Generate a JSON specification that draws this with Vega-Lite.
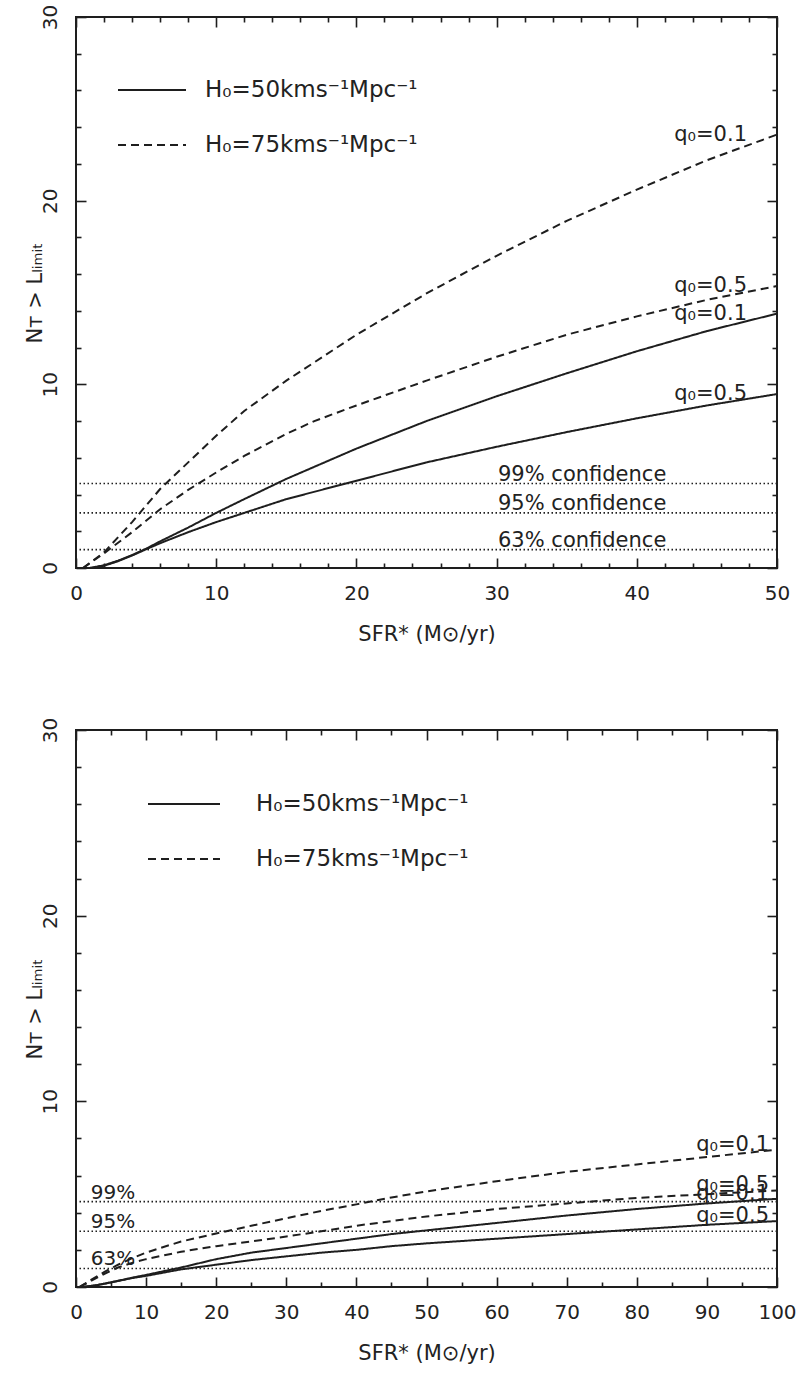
{
  "$schema": "https://vega.github.io/schema/vega-lite/v6.json",
  "background": "white",
  "padding": {"left": 22, "top": 3, "right": 8, "bottom": 4},
  "config": {
    "font": "DejaVu Sans",
    "view": {"stroke": "#1e1e1e", "strokeWidth": 2},
    "axis": {
      "domain": false, "grid": false,
      "labelFont": "DejaVu Sans", "labelFontSize": 20, "labelColor": "#222",
      "labelOverlap": false, "labelFlush": false, "labelBound": false,
      "tickColor": "#1e1e1e", "tickWidth": 1.6,
      "titleFont": "DejaVu Sans", "titleFontSize": 21, "titleFontWeight": "normal", "titleColor": "#222"
    },
    "line": {"color": "#1e1e1e", "strokeWidth": 2},
    "text": {"font": "DejaVu Sans", "color": "#222"}
  },
  "datasets": {
    "levels": [
      {"p": "99%", "n": 4.6},
      {"p": "95%", "n": 3.0},
      {"p": "63%", "n": 1.0}
    ],
    "sfr50": [
      {"h": 75, "q": 0.1, "x": 0.5, "y": 0}, {"h": 75, "q": 0.1, "x": 2, "y": 0.85}, {"h": 75, "q": 0.1, "x": 4, "y": 2.5},
      {"h": 75, "q": 0.1, "x": 6, "y": 4.3}, {"h": 75, "q": 0.1, "x": 8, "y": 5.75}, {"h": 75, "q": 0.1, "x": 10, "y": 7.2},
      {"h": 75, "q": 0.1, "x": 12, "y": 8.55}, {"h": 75, "q": 0.1, "x": 15, "y": 10.2}, {"h": 75, "q": 0.1, "x": 20, "y": 12.7},
      {"h": 75, "q": 0.1, "x": 25, "y": 14.95}, {"h": 75, "q": 0.1, "x": 30, "y": 17.0}, {"h": 75, "q": 0.1, "x": 35, "y": 18.9},
      {"h": 75, "q": 0.1, "x": 40, "y": 20.6}, {"h": 75, "q": 0.1, "x": 45, "y": 22.2}, {"h": 75, "q": 0.1, "x": 50, "y": 23.6},

      {"h": 75, "q": 0.5, "x": 0.5, "y": 0}, {"h": 75, "q": 0.5, "x": 2, "y": 0.8}, {"h": 75, "q": 0.5, "x": 4, "y": 1.95},
      {"h": 75, "q": 0.5, "x": 6, "y": 3.2}, {"h": 75, "q": 0.5, "x": 8, "y": 4.25}, {"h": 75, "q": 0.5, "x": 10, "y": 5.2},
      {"h": 75, "q": 0.5, "x": 12, "y": 6.1}, {"h": 75, "q": 0.5, "x": 15, "y": 7.3}, {"h": 75, "q": 0.5, "x": 17, "y": 8.0},
      {"h": 75, "q": 0.5, "x": 20, "y": 8.85}, {"h": 75, "q": 0.5, "x": 25, "y": 10.2}, {"h": 75, "q": 0.5, "x": 30, "y": 11.5},
      {"h": 75, "q": 0.5, "x": 35, "y": 12.7}, {"h": 75, "q": 0.5, "x": 40, "y": 13.7}, {"h": 75, "q": 0.5, "x": 45, "y": 14.6},
      {"h": 75, "q": 0.5, "x": 50, "y": 15.35},

      {"h": 50, "q": 0.1, "x": 1, "y": 0}, {"h": 50, "q": 0.1, "x": 2, "y": 0.15}, {"h": 50, "q": 0.1, "x": 3, "y": 0.4},
      {"h": 50, "q": 0.1, "x": 4, "y": 0.7}, {"h": 50, "q": 0.1, "x": 5, "y": 1.05}, {"h": 50, "q": 0.1, "x": 6, "y": 1.45},
      {"h": 50, "q": 0.1, "x": 8, "y": 2.2}, {"h": 50, "q": 0.1, "x": 10, "y": 3.0}, {"h": 50, "q": 0.1, "x": 12, "y": 3.75},
      {"h": 50, "q": 0.1, "x": 15, "y": 4.85}, {"h": 50, "q": 0.1, "x": 20, "y": 6.5}, {"h": 50, "q": 0.1, "x": 25, "y": 8.0},
      {"h": 50, "q": 0.1, "x": 30, "y": 9.35}, {"h": 50, "q": 0.1, "x": 35, "y": 10.6}, {"h": 50, "q": 0.1, "x": 40, "y": 11.8},
      {"h": 50, "q": 0.1, "x": 45, "y": 12.9}, {"h": 50, "q": 0.1, "x": 50, "y": 13.85},

      {"h": 50, "q": 0.5, "x": 1, "y": 0}, {"h": 50, "q": 0.5, "x": 2, "y": 0.12}, {"h": 50, "q": 0.5, "x": 3, "y": 0.37},
      {"h": 50, "q": 0.5, "x": 4, "y": 0.68}, {"h": 50, "q": 0.5, "x": 5, "y": 1.02}, {"h": 50, "q": 0.5, "x": 6, "y": 1.35},
      {"h": 50, "q": 0.5, "x": 8, "y": 1.95}, {"h": 50, "q": 0.5, "x": 10, "y": 2.5}, {"h": 50, "q": 0.5, "x": 12, "y": 3.0},
      {"h": 50, "q": 0.5, "x": 15, "y": 3.75}, {"h": 50, "q": 0.5, "x": 20, "y": 4.75}, {"h": 50, "q": 0.5, "x": 25, "y": 5.75},
      {"h": 50, "q": 0.5, "x": 30, "y": 6.6}, {"h": 50, "q": 0.5, "x": 35, "y": 7.4}, {"h": 50, "q": 0.5, "x": 40, "y": 8.15},
      {"h": 50, "q": 0.5, "x": 45, "y": 8.85}, {"h": 50, "q": 0.5, "x": 50, "y": 9.47}
    ],
    "sfr100": [
      {"h": 75, "q": 0.1, "x": 0.5, "y": 0}, {"h": 75, "q": 0.1, "x": 2, "y": 0.35}, {"h": 75, "q": 0.1, "x": 4, "y": 0.8},
      {"h": 75, "q": 0.1, "x": 6, "y": 1.2}, {"h": 75, "q": 0.1, "x": 8, "y": 1.55}, {"h": 75, "q": 0.1, "x": 10, "y": 1.85},
      {"h": 75, "q": 0.1, "x": 12, "y": 2.1}, {"h": 75, "q": 0.1, "x": 15, "y": 2.45}, {"h": 75, "q": 0.1, "x": 20, "y": 2.88},
      {"h": 75, "q": 0.1, "x": 25, "y": 3.3}, {"h": 75, "q": 0.1, "x": 30, "y": 3.7}, {"h": 75, "q": 0.1, "x": 35, "y": 4.1},
      {"h": 75, "q": 0.1, "x": 40, "y": 4.45}, {"h": 75, "q": 0.1, "x": 45, "y": 4.82}, {"h": 75, "q": 0.1, "x": 50, "y": 5.15},
      {"h": 75, "q": 0.1, "x": 60, "y": 5.7}, {"h": 75, "q": 0.1, "x": 70, "y": 6.2}, {"h": 75, "q": 0.1, "x": 80, "y": 6.6},
      {"h": 75, "q": 0.1, "x": 90, "y": 7.0}, {"h": 75, "q": 0.1, "x": 100, "y": 7.4},

      {"h": 75, "q": 0.5, "x": 0.5, "y": 0}, {"h": 75, "q": 0.5, "x": 2, "y": 0.3}, {"h": 75, "q": 0.5, "x": 4, "y": 0.7},
      {"h": 75, "q": 0.5, "x": 6, "y": 1.05}, {"h": 75, "q": 0.5, "x": 8, "y": 1.3}, {"h": 75, "q": 0.5, "x": 10, "y": 1.5},
      {"h": 75, "q": 0.5, "x": 15, "y": 1.9}, {"h": 75, "q": 0.5, "x": 20, "y": 2.2}, {"h": 75, "q": 0.5, "x": 25, "y": 2.45},
      {"h": 75, "q": 0.5, "x": 30, "y": 2.72}, {"h": 75, "q": 0.5, "x": 35, "y": 3.0}, {"h": 75, "q": 0.5, "x": 40, "y": 3.3},
      {"h": 75, "q": 0.5, "x": 45, "y": 3.55}, {"h": 75, "q": 0.5, "x": 50, "y": 3.8}, {"h": 75, "q": 0.5, "x": 60, "y": 4.2},
      {"h": 75, "q": 0.5, "x": 70, "y": 4.5}, {"h": 75, "q": 0.5, "x": 80, "y": 4.8}, {"h": 75, "q": 0.5, "x": 90, "y": 5.0},
      {"h": 75, "q": 0.5, "x": 100, "y": 5.2},

      {"h": 50, "q": 0.1, "x": 1, "y": 0}, {"h": 50, "q": 0.1, "x": 3, "y": 0.1}, {"h": 50, "q": 0.1, "x": 5, "y": 0.25},
      {"h": 50, "q": 0.1, "x": 8, "y": 0.5}, {"h": 50, "q": 0.1, "x": 10, "y": 0.65}, {"h": 50, "q": 0.1, "x": 15, "y": 1.05},
      {"h": 50, "q": 0.1, "x": 20, "y": 1.5}, {"h": 50, "q": 0.1, "x": 25, "y": 1.85}, {"h": 50, "q": 0.1, "x": 30, "y": 2.1},
      {"h": 50, "q": 0.1, "x": 35, "y": 2.35}, {"h": 50, "q": 0.1, "x": 40, "y": 2.6}, {"h": 50, "q": 0.1, "x": 45, "y": 2.85},
      {"h": 50, "q": 0.1, "x": 50, "y": 3.05}, {"h": 50, "q": 0.1, "x": 60, "y": 3.45}, {"h": 50, "q": 0.1, "x": 70, "y": 3.85},
      {"h": 50, "q": 0.1, "x": 80, "y": 4.2}, {"h": 50, "q": 0.1, "x": 90, "y": 4.5}, {"h": 50, "q": 0.1, "x": 100, "y": 4.75},

      {"h": 50, "q": 0.5, "x": 1, "y": 0}, {"h": 50, "q": 0.5, "x": 3, "y": 0.1}, {"h": 50, "q": 0.5, "x": 5, "y": 0.25},
      {"h": 50, "q": 0.5, "x": 8, "y": 0.48}, {"h": 50, "q": 0.5, "x": 10, "y": 0.6}, {"h": 50, "q": 0.5, "x": 15, "y": 0.95},
      {"h": 50, "q": 0.5, "x": 20, "y": 1.2}, {"h": 50, "q": 0.5, "x": 25, "y": 1.45}, {"h": 50, "q": 0.5, "x": 30, "y": 1.65},
      {"h": 50, "q": 0.5, "x": 35, "y": 1.85}, {"h": 50, "q": 0.5, "x": 40, "y": 2.0}, {"h": 50, "q": 0.5, "x": 45, "y": 2.2},
      {"h": 50, "q": 0.5, "x": 50, "y": 2.35}, {"h": 50, "q": 0.5, "x": 60, "y": 2.6}, {"h": 50, "q": 0.5, "x": 70, "y": 2.85},
      {"h": 50, "q": 0.5, "x": 80, "y": 3.1}, {"h": 50, "q": 0.5, "x": 90, "y": 3.35}, {"h": 50, "q": 0.5, "x": 100, "y": 3.55}
    ]
  },
  "spacing": 71,
  "resolve": {"scale": {"strokeDash": "independent"}, "legend": {"strokeDash": "independent"}},
  "vconcat": [
    {
      "width": 701,
      "height": 551,
      "resolve": {"axis": {"x": "independent", "y": "independent"}},
      "layer": [
        {
          "data": {"name": "levels"},
          "mark": {"type": "rule", "strokeDash": [1.5, 2.5], "strokeWidth": 1.6, "color": "#1e1e1e"},
          "encoding": {
            "y": {
              "field": "n", "type": "quantitative", "scale": {"domain": [0, 30], "nice": false},
              "axis": {
                "orient": "right", "labels": false, "title": null,
                "values": [0, 2, 4, 6, 8, 10, 12, 14, 16, 18, 20, 22, 24, 26, 28, 30],
                "tickSize": {"condition": {"test": "datum.value % 10 === 0", "value": -10}, "value": -5}
              }
            }
          }
        },
        {
          "data": {"name": "levels"},
          "transform": [{"calculate": "datum.p + ' confidence'", "as": "t"}],
          "mark": {"type": "text", "align": "left", "baseline": "alphabetic", "dy": -3, "fontSize": 21},
          "encoding": {
            "x": {
              "datum": 30.1, "type": "quantitative",
              "axis": {
                "orient": "top", "labels": false, "title": null,
                "values": [0, 2, 4, 6, 8, 10, 12, 14, 16, 18, 20, 22, 24, 26, 28, 30, 32, 34, 36, 38, 40, 42, 44, 46, 48, 50],
                "tickSize": {"condition": {"test": "datum.value % 10 === 0", "value": -10}, "value": -5}
              }
            },
            "y": {"field": "n", "type": "quantitative", "axis": null},
            "text": {"field": "t"}
          }
        },
        {
          "data": {"name": "sfr50"},
          "mark": {"type": "line", "strokeWidth": 2},
          "encoding": {
            "x": {
              "field": "x", "type": "quantitative", "scale": {"domain": [0, 50], "nice": false},
              "axis": {
                "orient": "bottom", "title": "SFR* (M⊙/yr)", "titlePadding": 15,
                "values": [0, 2, 4, 6, 8, 10, 12, 14, 16, 18, 20, 22, 24, 26, 28, 30, 32, 34, 36, 38, 40, 42, 44, 46, 48, 50],
                "labelExpr": "datum.value % 10 === 0 ? datum.label : ''",
                "labelPadding": 25,
                "tickSize": {"condition": {"test": "datum.value % 10 === 0", "value": -10}, "value": -5}
              }
            },
            "y": {
              "field": "y", "type": "quantitative",
              "axis": {
                "orient": "left", "title": "Nᴛ > Lₗᵢₘᵢₜ", "titlePadding": -10,
                "values": [0, 2, 4, 6, 8, 10, 12, 14, 16, 18, 20, 22, 24, 26, 28, 30],
                "labelExpr": "datum.value % 10 === 0 ? datum.label : ''",
                "labelAngle": -90, "labelAlign": "center", "labelBaseline": "bottom", "labelPadding": 26,
                "tickSize": {"condition": {"test": "datum.value % 10 === 0", "value": -10}, "value": -5}
              }
            },
            "strokeDash": {
              "field": "h", "type": "nominal",
              "scale": {"domain": [50, 75], "range": [[1, 0], [8, 5]]},
              "legend": {
                "orient": "none", "legendX": 41, "legendY": 58, "direction": "vertical",
                "title": null, "padding": 0,
                "symbolType": "stroke", "symbolSize": 4624, "symbolStrokeWidth": 2, "symbolStrokeColor": "#1e1e1e",
                "labelFont": "DejaVu Sans", "labelFontSize": 23, "labelColor": "#222", "labelOffset": 18, "labelLimit": 400,
                "clipHeight": 30, "rowPadding": 25,
                "labelExpr": "'H₀=' + datum.label + 'kms⁻¹Mpc⁻¹'"
              }
            },
            "detail": {"field": "q", "type": "nominal"}
          }
        },
        {
          "data": {"name": "sfr50"},
          "transform": [
            {"filter": "datum.x === 50"},
            {"calculate": "'q₀=' + format(datum.q, '.1f')", "as": "t"}
          ],
          "mark": {"type": "text", "align": "right", "baseline": "alphabetic", "dx": -30, "dy": 6, "fontSize": 21},
          "encoding": {
            "x": {"field": "x", "type": "quantitative", "axis": null},
            "y": {"field": "y", "type": "quantitative", "axis": null},
            "text": {"field": "t"}
          }
        }
      ]
    },
    {
      "width": 701,
      "height": 557,
      "resolve": {"axis": {"x": "independent", "y": "independent"}},
      "layer": [
        {
          "data": {"name": "levels"},
          "mark": {"type": "rule", "strokeDash": [1.5, 2.5], "strokeWidth": 1.6, "color": "#1e1e1e"},
          "encoding": {
            "y": {
              "field": "n", "type": "quantitative", "scale": {"domain": [0, 30], "nice": false},
              "axis": {
                "orient": "right", "labels": false, "title": null,
                "values": [0, 2, 4, 6, 8, 10, 12, 14, 16, 18, 20, 22, 24, 26, 28, 30],
                "tickSize": {"condition": {"test": "datum.value % 10 === 0", "value": -10}, "value": -5}
              }
            }
          }
        },
        {
          "data": {"name": "levels"},
          "mark": {"type": "text", "align": "left", "baseline": "alphabetic", "dy": -3, "fontSize": 20},
          "encoding": {
            "x": {
              "datum": 2.1, "type": "quantitative",
              "axis": {
                "orient": "top", "labels": false, "title": null,
                "values": [0, 5, 10, 15, 20, 25, 30, 35, 40, 45, 50, 55, 60, 65, 70, 75, 80, 85, 90, 95, 100],
                "tickSize": {"condition": {"test": "datum.value % 10 === 0", "value": -10}, "value": -5}
              }
            },
            "y": {"field": "n", "type": "quantitative", "axis": null},
            "text": {"field": "p"}
          }
        },
        {
          "data": {"name": "sfr100"},
          "mark": {"type": "line", "strokeWidth": 2},
          "encoding": {
            "x": {
              "field": "x", "type": "quantitative", "scale": {"domain": [0, 100], "nice": false},
              "axis": {
                "orient": "bottom", "title": "SFR* (M⊙/yr)", "titlePadding": 15,
                "values": [0, 5, 10, 15, 20, 25, 30, 35, 40, 45, 50, 55, 60, 65, 70, 75, 80, 85, 90, 95, 100],
                "labelExpr": "datum.value % 10 === 0 ? datum.label : ''",
                "labelPadding": 25,
                "tickSize": {"condition": {"test": "datum.value % 10 === 0", "value": -10}, "value": -5}
              }
            },
            "y": {
              "field": "y", "type": "quantitative",
              "axis": {
                "orient": "left", "title": "Nᴛ > Lₗᵢₘᵢₜ", "titlePadding": -10,
                "values": [0, 2, 4, 6, 8, 10, 12, 14, 16, 18, 20, 22, 24, 26, 28, 30],
                "labelExpr": "datum.value % 10 === 0 ? datum.label : ''",
                "labelAngle": -90, "labelAlign": "center", "labelBaseline": "bottom", "labelPadding": 26,
                "tickSize": {"condition": {"test": "datum.value % 10 === 0", "value": -10}, "value": -5}
              }
            },
            "strokeDash": {
              "field": "h", "type": "nominal",
              "scale": {"domain": [50, 75], "range": [[1, 0], [8, 5]]},
              "legend": {
                "orient": "none", "legendX": 71, "legendY": 59, "direction": "vertical",
                "title": null, "padding": 0,
                "symbolType": "stroke", "symbolSize": 5184, "symbolStrokeWidth": 2, "symbolStrokeColor": "#1e1e1e",
                "labelFont": "DejaVu Sans", "labelFontSize": 23, "labelColor": "#222", "labelOffset": 35, "labelLimit": 400,
                "clipHeight": 30, "rowPadding": 25,
                "labelExpr": "'H₀=' + datum.label + 'kms⁻¹Mpc⁻¹'"
              }
            },
            "detail": {"field": "q", "type": "nominal"}
          }
        },
        {
          "data": {"name": "sfr100"},
          "transform": [
            {"filter": "datum.x === 100"},
            {"calculate": "'q₀=' + format(datum.q, '.1f')", "as": "t"}
          ],
          "mark": {"type": "text", "align": "right", "baseline": "alphabetic", "dx": -8, "dy": 1, "fontSize": 21},
          "encoding": {
            "x": {"field": "x", "type": "quantitative", "axis": null},
            "y": {"field": "y", "type": "quantitative", "axis": null},
            "text": {"field": "t"}
          }
        }
      ]
    }
  ]
}
